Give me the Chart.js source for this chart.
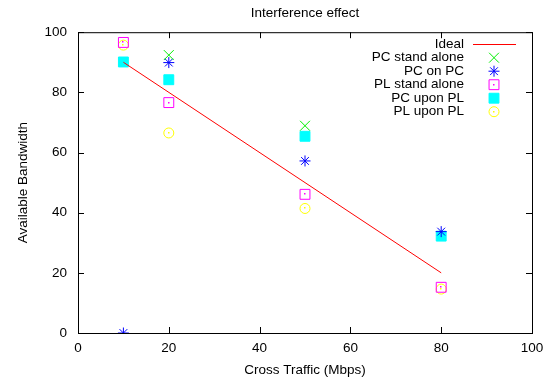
<!DOCTYPE html>
<html>
<head>
<meta charset="utf-8">
<script src="https://cdn.jsdelivr.net/npm/chart.js@4"></script>
<style>
  html, body { margin: 0; padding: 0; background: #fff; }
</style>
</head>
<body>
<canvas id="myChart" width="556" height="382"></canvas>
<script>
const xTicks = [0, 20, 40, 60, 80, 100];
const yTicks = [0, 20, 40, 60, 80, 100];

const idealX = [10, 80];
const idealY = [90, 20];

const pcAloneX = [20, 50];
const pcAloneY = [92.4, 68.9];

const pcOnPcX = [10, 20, 50, 80];
const pcOnPcY = [0, 89.9, 57.2, 33.7];

const plAloneX = [10, 20, 50, 80];
const plAloneY = [96.6, 76.6, 46.1, 15.2];

const pcUponPlX = [10, 20, 50, 80];
const pcUponPlY = [90.1, 84.2, 65.4, 32.2];

const plUponPlX = [10, 20, 50, 80];
const plUponPlY = [95.7, 66.5, 41.4, 14.6];

const FONT = "'Liberation Sans', Arial, sans-serif";
const FSIZE = 13.5;

const toPoints = (xs, ys) => xs.map((x, i) => ({ x, y: ys[i] }));

// frame, inward ticks on all four sides, and the gnuplot style legend
const framePlugin = {
  id: "frame",
  afterDraw(chart) {
    const { ctx, chartArea: a, scales } = chart;
    ctx.save();
    ctx.strokeStyle = "#000";
    ctx.lineWidth = 1;
    ctx.strokeRect(a.left + 0.5, a.top + 0.5, a.right - a.left, a.bottom - a.top);
    ctx.beginPath();
    xTicks.forEach((v) => {
      const px = Math.round(scales.x.getPixelForValue(v)) + 0.5;
      ctx.moveTo(px, a.bottom); ctx.lineTo(px, a.bottom - 6);
      ctx.moveTo(px, a.top); ctx.lineTo(px, a.top + 6);
    });
    yTicks.forEach((v) => {
      const py = Math.round(scales.y.getPixelForValue(v)) + 0.5;
      ctx.moveTo(a.left, py); ctx.lineTo(a.left + 6, py);
      ctx.moveTo(a.right, py); ctx.lineTo(a.right - 6, py);
    });
    ctx.stroke();

    // legend
    ctx.font = FSIZE + "px " + FONT;
    ctx.textAlign = "right";
    ctx.textBaseline = "middle";
    const textX = a.right - 68;
    const sampleX = a.right - 38;
    chart.data.datasets.forEach((ds, i) => {
      const y = a.top + 12 + i * 13.5;
      ctx.fillStyle = "#000";
      ctx.fillText(ds.label, textX, y);
      ctx.lineWidth = 1;
      if (ds.showLine) {
        ctx.strokeStyle = ds.borderColor;
        ctx.beginPath();
        ctx.moveTo(textX + 9, Math.round(y) + 0.5);
        ctx.lineTo(a.right - 16, Math.round(y) + 0.5);
        ctx.stroke();
      } else {
        ctx.strokeStyle = ds.pointBorderColor;
        ctx.fillStyle = ds.pointBackgroundColor;
        Chart.helpers.drawPoint(ctx, {
          pointStyle: ds.pointStyle,
          radius: ds.pointRadius,
          borderWidth: 1,
        }, sampleX, y);
        if (ds.centerDot) {
          ctx.fillStyle = ds.pointBorderColor;
          ctx.fillRect(Math.round(sampleX) - 1, Math.round(y) - 1, 1.5, 1.5);
        }
      }
    });
    ctx.restore();
  },
};

// small centre dots, as gnuplot draws on open symbols
const dotPlugin = {
  id: "dots",
  afterDatasetsDraw(chart) {
    const ctx = chart.ctx;
    ctx.save();
    chart.data.datasets.forEach((ds, idx) => {
      if (!ds.centerDot) return;
      ctx.fillStyle = ds.pointBorderColor;
      chart.getDatasetMeta(idx).data.forEach((pt) =>
        ctx.fillRect(Math.round(pt.x) - 1, Math.round(pt.y) - 1, 1.5, 1.5));
    });
    ctx.restore();
  },
};

const scatter = (label, xs, ys, style, color, radius, filled, centerDot) => ({
  label,
  data: toPoints(xs, ys),
  showLine: false,
  pointStyle: style,
  pointRadius: radius,
  pointHoverRadius: radius,
  pointBorderWidth: 1,
  borderColor: color,
  pointBorderColor: color,
  pointBackgroundColor: filled ? color : "rgba(0,0,0,0)",
  backgroundColor: filled ? color : "rgba(0,0,0,0)",
  centerDot,
});

const datasets = [
  {
    label: "Ideal",
    data: toPoints(idealX, idealY),
    showLine: true,
    borderColor: "#ff0000",
    borderWidth: 1,
    pointRadius: 0,
    fill: false,
  },
  scatter("PC stand alone", pcAloneX, pcAloneY, "crossRot", "#00ee00", 7, false, false),
  scatter("PC on PC", pcOnPcX, pcOnPcY, "star", "#0000ff", 5.5, false, false),
  scatter("PL stand alone", plAloneX, plAloneY, "rect", "#ff00ff", 7, false, true),
  scatter("PC upon PL", pcUponPlX, pcUponPlY, "rect", "#00ffff", 7, true, false),
  scatter("PL upon PL", plUponPlX, plUponPlY, "circle", "#ffff00", 5, false, true),
];

const canvas = document.getElementById("myChart").getContext("2d");
new Chart(canvas, {
  type: "scatter",
  data: { datasets },
  options: {
    responsive: false,
    animation: false,
    layout: { padding: { left: 0, right: 24, top: 0, bottom: 0 } },
    plugins: {
      legend: { display: false },
      tooltip: { enabled: false },
      title: {
        display: true,
        fullSize: false,
        text: "Interference effect",
        color: "#000",
        font: { family: FONT, size: FSIZE, weight: "normal" },
        padding: { top: 5, bottom: 11 },
      },
    },
    scales: {
      x: {
        type: "linear",
        min: 0,
        max: 100,
        afterBuildTicks: (scale) => { scale.ticks = xTicks.map((v) => ({ value: v })); },
        afterFit: (scale) => { scale.height = 49; },
        grid: { display: false, drawTicks: false },
        border: { display: false },
        ticks: { color: "#000", font: { family: FONT, size: FSIZE }, padding: 7, maxRotation: 0 },
        title: {
          display: true,
          text: "Cross Traffic (Mbps)",
          color: "#000",
          font: { family: FONT, size: FSIZE },
          padding: { top: 2 },
        },
      },
      y: {
        type: "linear",
        min: 0,
        max: 100,
        afterBuildTicks: (scale) => { scale.ticks = yTicks.map((v) => ({ value: v })); },
        afterFit: (scale) => { scale.width = 78; },
        grid: { display: false, drawTicks: false },
        border: { display: false },
        ticks: { color: "#000", font: { family: FONT, size: FSIZE }, padding: 11 },
        title: {
          display: true,
          text: "Available Bandwidth",
          color: "#000",
          font: { family: FONT, size: FSIZE },
          padding: { top: 15, bottom: 6 },
        },
      },
    },
  },
  plugins: [framePlugin, dotPlugin],
});
</script>
</body>
</html>
